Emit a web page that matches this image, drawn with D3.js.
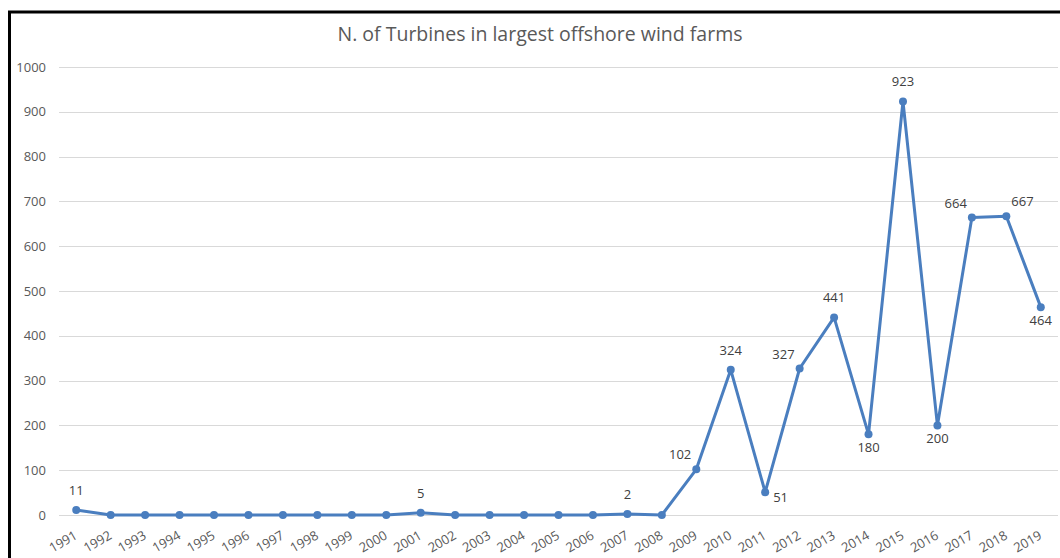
<!DOCTYPE html>
<html>
<head>
<meta charset="utf-8">
<script src="https://cdn.jsdelivr.net/npm/d3@7"></script>
<style>
  html, body { margin: 0; padding: 0; background: #fff; }
  svg { display: block; }
</style>
</head>
<body>
<svg id="chart" width="1060" height="558"></svg>
<script>
// Turbine counts of the largest offshore wind farm commissioned each year
const years = ["1991","1992","1993","1994","1995","1996","1997","1998","1999","2000",
  "2001","2002","2003","2004","2005","2006","2007","2008","2009","2010",
  "2011","2012","2013","2014","2015","2016","2017","2018","2019"];
const turbines = [11,0,0,0,0,0,0,0,0,0,5,0,0,0,0,0,2,0,102,324,51,327,441,180,923,200,664,667,464];
// Placement of each value label relative to its point (only non-zero values are labelled)
const labelPlacement = ["above",null,null,null,null,null,null,null,null,null,
  "above",null,null,null,null,null,"above",null,"aboveLeft","above",
  "belowRight","aboveLeft","above","below","above","below","aboveLeft","aboveRight","below"];
const yTicks = [0,100,200,300,400,500,600,700,800,900,1000];
const title = "N. of Turbines in largest offshore wind farms";

const svg = d3.select("#chart");
const W = 1060, H = 558;
const font = "'Open Sans', 'Liberation Sans', sans-serif";
const textColor = "#595959";
const lineColor = "#4a7ebf";

// Frame
svg.append("rect").attr("x", 9.5).attr("y", 12).attr("width", W + 10).attr("height", H + 10)
  .attr("fill", "#fff").attr("stroke", "#000").attr("stroke-width", 3);

const plot = { left: 59, right: 1058, top: 67, bottom: 515 };

const x = d3.scaleBand().domain(years).range([plot.left, plot.right]);
const y = d3.scaleLinear().domain([0, 1000]).range([plot.bottom, plot.top]);
const cx = d => x(d) + x.bandwidth() / 2;

// Title
svg.append("text").attr("x", 540).attr("y", 41).attr("text-anchor", "middle")
  .attr("font-family", font).attr("font-size", 19.5).attr("fill", textColor)
  .text(title);

// Horizontal gridlines
svg.append("g").selectAll("line").data(yTicks).join("line")
  .attr("x1", plot.left).attr("x2", plot.right)
  .attr("y1", d => Math.round(y(d)) + 0.5).attr("y2", d => Math.round(y(d)) + 0.5)
  .attr("stroke", "#d9d9d9").attr("stroke-width", 1);

// Y axis labels
const yAxis = d3.axisLeft(y).tickValues(yTicks).tickFormat(d3.format("d")).tickSize(0).tickPadding(0);
const yg = svg.append("g").attr("transform", `translate(${plot.left - 13},0)`).call(yAxis);
yg.select(".domain").remove();
yg.selectAll("text").attr("font-family", font).attr("font-size", 13).attr("fill", textColor);

// X axis labels, rotated
const xAxis = d3.axisBottom(x).tickSize(0).tickPadding(0);
const xg = svg.append("g").attr("transform", `translate(0,${plot.bottom})`).call(xAxis);
xg.select(".domain").remove();
xg.selectAll("text").attr("font-family", font).attr("font-size", 13).attr("fill", textColor)
  .attr("text-anchor", "end").attr("dy", 0)
  .attr("transform", "translate(2,23) rotate(-30)");

// Line
const line = d3.line().x((d, i) => cx(years[i])).y(d => y(d));
svg.append("path").datum(turbines).attr("d", line)
  .attr("fill", "none").attr("stroke", lineColor).attr("stroke-width", 3)
  .attr("stroke-linejoin", "round");

// Markers
svg.append("g").selectAll("circle").data(turbines).join("circle")
  .attr("cx", (d, i) => cx(years[i])).attr("cy", d => y(d)).attr("r", 4)
  .attr("fill", lineColor);

// Value labels
const offsets = {
  above: [0, -15, "middle"],
  below: [0, 18, "middle"],
  aboveLeft: [-5, -10, "end"],
  aboveRight: [5, -10, "start"],
  belowRight: [8, 10, "start"]
};
svg.append("g").selectAll("text")
  .data(turbines.map((v, i) => ({ v, i, p: labelPlacement[i] })).filter(d => d.p))
  .join("text")
  .attr("x", d => cx(years[d.i]) + offsets[d.p][0])
  .attr("y", d => y(d.v) + offsets[d.p][1])
  .attr("text-anchor", d => offsets[d.p][2])
  .attr("font-family", font).attr("font-size", 13).attr("fill", "#404040")
  .text(d => d.v);
</script>
</body>
</html>
